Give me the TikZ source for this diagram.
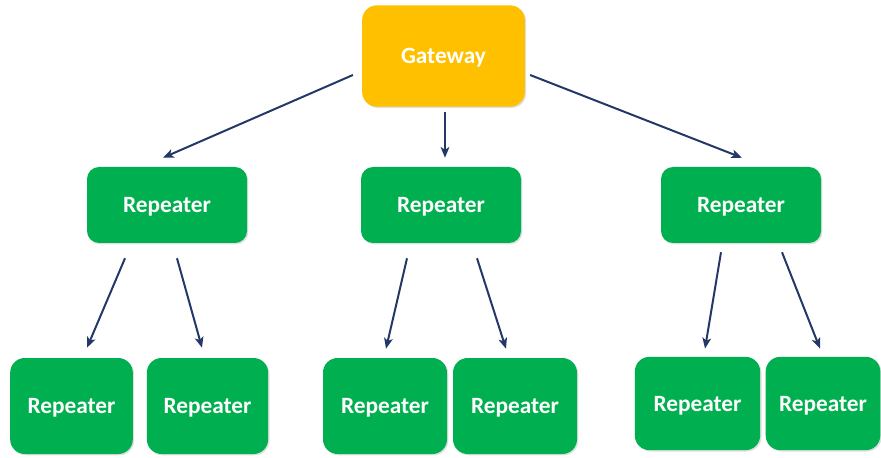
\documentclass[tikz,border=0pt]{standalone}
\usepackage{fontspec}
\setmainfont{Carlito}
\usetikzlibrary{arrows.meta,calc,shadows}
\definecolor{gold}{RGB}{255,192,0}
\definecolor{leaf}{RGB}{0,176,80}
\definecolor{navy}{RGB}{36,56,104}
\begin{document}
\begin{tikzpicture}[x=0.75pt,y=0.75pt,
        box/.style={rounded corners=9pt,fill=leaf,text=white,font=\bfseries\fontsize{17.5}{20}\selectfont,
                    inner sep=0pt,text depth=0pt,drop shadow={shadow xshift=1pt,shadow yshift=-1pt,opacity=0.25}},
        mid/.style={box,minimum width=120pt,minimum height=57pt},
        leafbox/.style={box,rounded corners=11pt,minimum height=72pt},
        arr/.style={draw=navy,line width=1.5pt,-{Stealth[length=8pt,width=6.5pt,inset=2pt]}}]
                \useasboundingbox (0,0) rectangle (881,457);

                \node[box,fill=gold,rounded corners=11pt,minimum width=122pt,minimum height=76pt] (g) at (443.5,401) {Gateway};

                \node[mid] (r1) at (167,252) {Repeater};
                \node[mid] (r2) at (441,252) {Repeater};
                \node[mid] (r3) at (741,252) {Repeater};

                \node[leafbox,minimum width=92pt] (b1) at (71.5,51) {Repeater};
                \node[leafbox,minimum width=91pt] (b2) at (207.5,51) {Repeater};
                \node[leafbox,minimum width=93pt] (b3) at (385,51) {Repeater};
                \node[leafbox,minimum width=93pt] (b4) at (515,51) {Repeater};
                \node[leafbox,minimum width=94pt,minimum height=70pt] (b5) at (697.5,53.5) {Repeater};
                \node[leafbox,minimum width=86pt,minimum height=70pt] (b6) at (823,53.5) {Repeater};

                \draw[arr] ($(g.west)+(-9,-19)$) -- ($(r1.north)+(-4,9)$);
                \draw[arr] ($(g.south)+(1.5,-5)$) -- ($(r2.north)+(4,9)$);
                \draw[arr] ($(g.east)+(5,-19)$) -- ($(r3.north)+(1,9)$);

                \draw[arr] ($(r1.south)+(-42,-15)$) -- ($(b1.north)+(15.5,10)$);
                \draw[arr] ($(r1.south)+(10,-15)$) -- ($(b2.north)+(-5.5,10)$);

                \draw[arr] ($(r2.south)+(-34,-15)$) -- ($(b3.north)+(1,9)$);
                \draw[arr] ($(r2.south)+(36,-15)$) -- ($(b4.north)+(-9,9)$);

                \draw[arr] ($(r3.south)+(-20,-9)$) -- ($(b5.north)+(7.5,8)$);
                \draw[arr] ($(r3.south)+(41,-9)$) -- ($(b6.north)+(-3,8)$);
            \end{tikzpicture}
\end{document}
